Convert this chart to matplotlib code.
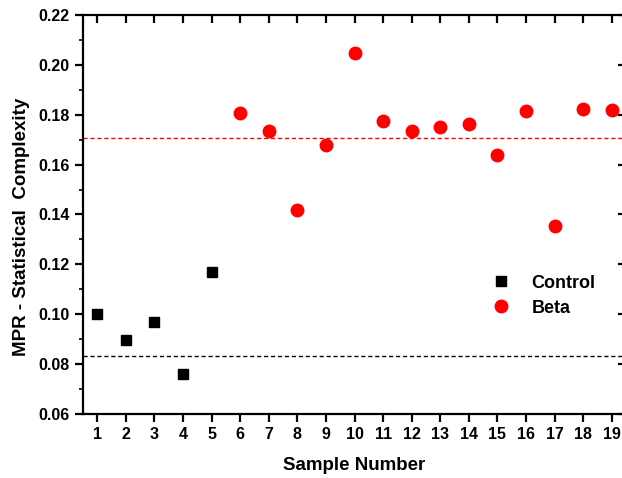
import matplotlib
matplotlib.use("Agg")
import matplotlib.pyplot as plt
from matplotlib.ticker import MultipleLocator

# data
control_x = [1, 2, 3, 4, 5]
control_y = [0.1001, 0.0897, 0.0970, 0.0761, 0.1168]
beta_x = [6, 7, 8, 9, 10, 11, 12, 13, 14, 15, 16, 17, 18, 19]
beta_y = [0.1806, 0.1735, 0.1417, 0.1680, 0.2046, 0.1775, 0.1735,
          0.1750, 0.1763, 0.1637, 0.1815, 0.1355, 0.1822, 0.1819]
control_ref = 0.0834
beta_ref = 0.1708

plt.rcParams["font.family"] = ["Liberation Sans", "DejaVu Sans"]
plt.rcParams["font.weight"] = "bold"

fig = plt.figure(figsize=(6.22, 4.78), dpi=100)
# right spine falls just past the right edge in the reference
ax = fig.add_axes([83 / 622, 64 / 478, 543 / 622, 399 / 478])

ax.axhline(beta_ref, color="red", linestyle=(0, (3, 2)), linewidth=1.0)
ax.axhline(control_ref, color="black", linestyle=(0, (3, 2)), linewidth=1.0)

ax.plot(control_x, control_y, "s", color="black", markersize=6.5, label="Control", linestyle="none")
ax.plot(beta_x, beta_y, "o", color="red", markersize=9, label="Beta", linestyle="none")

ax.set_xlim(0.5, 19.5)
ax.set_ylim(0.06, 0.22)
ax.set_xticks(range(1, 20))
ax.yaxis.set_major_locator(MultipleLocator(0.02))
ax.yaxis.set_minor_locator(MultipleLocator(0.01))
ax.yaxis.set_major_formatter(matplotlib.ticker.FormatStrFormatter("%.2f"))

for s in ax.spines.values():
    s.set_linewidth(1.6)

ax.tick_params(axis="both", which="major", direction="out", length=6, width=1.6,
               labelsize=11.5, top=False, right=False)
ax.tick_params(axis="y", which="minor", direction="out", length=3, width=1.2)
# inward ticks on the top and right
ax.tick_params(axis="x", which="major", top=True, labeltop=False)
ax.tick_params(axis="y", which="both", right=True, labelright=False)
for t in ax.xaxis.get_major_ticks():
    t.tick2line.set_marker(matplotlib.lines.TICKDOWN)
for t in ax.yaxis.get_major_ticks() + ax.yaxis.get_minor_ticks():
    t.tick2line.set_marker(matplotlib.lines.TICKLEFT)

ax.set_xlabel("Sample Number", fontsize=13.5, fontweight="bold", labelpad=11)
ax.set_ylabel("MPR - Statistical  Complexity", fontsize=13.5, fontweight="bold")
ax.yaxis.set_label_coords(-0.098, 0.47)

ax.legend(loc="upper left", bbox_to_anchor=(0.72, 0.39), frameon=False,
          fontsize=13, handletextpad=1.1, labelspacing=0.45, handlelength=1.2)

fig.savefig("out.png", dpi=100)
